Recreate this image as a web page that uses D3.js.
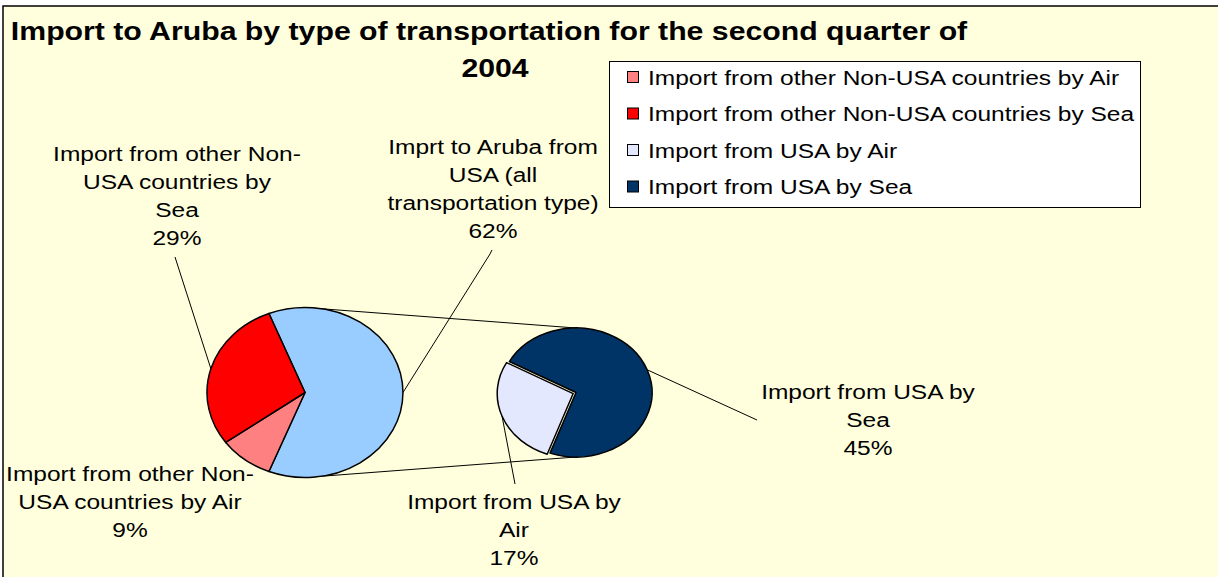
<!DOCTYPE html>
<html>
<head>
<meta charset="utf-8">
<script src="https://cdn.jsdelivr.net/npm/d3@7"></script>
<style>
  html, body { margin: 0; padding: 0; background: #ffffff; }
  svg { display: block; }
</style>
</head>
<body>
<svg id="chart" width="1218" height="577"></svg>
<script>
// ---------------- data ----------------
const titleLines = ["Import to Aruba by type of transportation for the second quarter of", "2004"];
const categories = [
  "Import from other Non-USA countries by Air",
  "Import from other Non-USA countries by Sea",
  "Import from USA by Air",
  "Import from USA by Sea"
];
const shares = [9, 29, 17, 45];              // percent of total imports
const otherLabel = "Imprt to Aruba from USA (all transportation type)";
const seriesColors = ["#FF8080", "#FF0000", "#E3E8FF", "#003366"];
const otherColor = "#99CCFF";

// label text lines (as wrapped in the original)
const labelLines = [
  ["Import from other Non-", "USA countries by Air"],
  ["Import from other Non-", "USA countries by", "Sea"],
  ["Import from USA by", "Air"],
  ["Import from USA by", "Sea"]
];
const otherLabelLines = ["Imprt to Aruba from", "USA (all", "transportation type)"];

// ---------------- layout ----------------
const svg = d3.select("#chart");
const FONT = "'Liberation Sans', Arial, Helvetica, sans-serif";
const SX = 1.167;        // horizontal stretch of the original rendering
const LH = 28.2;         // label line height
const deg = Math.PI / 180;

svg.append("rect").attr("x", 3).attr("y", 6).attr("width", 1240).attr("height", 600)
  .attr("fill", "#FFFFDD").attr("stroke", "#000").attr("stroke-width", 1.5);

function textBlock(lines, cx, baseline, size, weight, lh, sx) {
  lines.forEach((t, i) => {
    svg.append("g").attr("transform", `translate(${cx},${baseline + i * lh}) scale(${sx || SX},1)`)
      .append("text").attr("text-anchor", "middle")
      .attr("font-family", FONT).attr("font-size", size).attr("font-weight", weight)
      .attr("fill", "#000").text(t);
  });
}

// title
textBlock([titleLines[0]], 489, 40, 25, "bold", 0, 1.21);
textBlock([titleLines[1]], 495, 77, 25, "bold", 0, 1.21);

// ---------------- pies ----------------
const total = d3.sum(shares);
const usaTotal = shares[2] + shares[3];
const p1 = { cx: 305, cy: 392.5, rx: 98, ry: 85 };
const p2 = { cx: 576, cy: 392.5, rx: 76, ry: 64.5 };

const arc = d3.arc().innerRadius(0).outerRadius(1);

// primary pie: "other" (USA) slice centred at 3 o'clock
const primary = [
  { value: usaTotal, color: otherColor, idx: -1 },
  { value: shares[0], color: seriesColors[0], idx: 0 },
  { value: shares[1], color: seriesColors[1], idx: 1 }
];
const s1 = Math.PI / 2 - (usaTotal / total) * Math.PI;
const arcs1 = d3.pie().sort(null).value(d => d.value).startAngle(s1).endAngle(s1 + 2 * Math.PI)(primary);

// secondary pie: USA split
const secondary = [
  { value: shares[2], color: seriesColors[2], idx: 2 },
  { value: shares[3], color: seriesColors[3], idx: 3 }
];
const s2 = 200 * deg;
const arcs2 = d3.pie().sort(null).value(d => d.value).startAngle(s2).endAngle(s2 + 2 * Math.PI)(secondary);

function ellPoint(p, a, off) {
  off = off || [0, 0];
  return [p.cx + p.rx * Math.sin(a) + off[0], p.cy - p.ry * Math.cos(a) + off[1]];
}

// connector lines between the pies
const line = d3.line();
svg.append("path").attr("d", line([ellPoint(p1, 0), ellPoint(p2, 0)]))
  .attr("stroke", "#000").attr("stroke-width", 1).attr("fill", "none");
svg.append("path").attr("d", line([ellPoint(p1, Math.PI), ellPoint(p2, Math.PI)]))
  .attr("stroke", "#000").attr("stroke-width", 1).attr("fill", "none");

function drawPie(p, arcs, explodeIdx, explodeDist) {
  const g = svg.append("g").attr("transform", `translate(${p.cx},${p.cy})`);
  arcs.forEach(a => {
    let off = [0, 0];
    if (a.data.idx === explodeIdx) {
      const m = (a.startAngle + a.endAngle) / 2;
      off = [explodeDist * Math.sin(m), -explodeDist * Math.cos(m)];
    }
    a.off = off;
    g.append("g").attr("transform", `translate(${off[0]},${off[1]}) scale(${p.rx},${p.ry})`)
      .append("path").attr("d", arc(a))
      .attr("fill", a.data.color).attr("stroke", "#000").attr("stroke-width", 1.5)
      .attr("stroke-linejoin", "round")
      .attr("vector-effect", "non-scaling-stroke");
  });
}
drawPie(p1, arcs1, null, 0);
drawPie(p2, arcs2, 2, 3);

// ---------------- data labels ----------------
function leader(p, a, end) {
  const m = (a.startAngle + a.endAngle) / 2;
  const st = ellPoint(p, m, a.off);
  svg.append("path").attr("d", line([st].concat(end)))
    .attr("stroke", "#000").attr("stroke-width", 1).attr("fill", "none");
}
const pct = v => Math.round(v / total * 100) + "%";

// primary pie labels
leader(p1, arcs1[2], [[175, 257]]);
leader(p1, arcs1[0], [[490, 254], [492, 250]]);
textBlock(labelLines[1].concat([pct(shares[1])]), 177, 160.5, 21, "normal", LH);
textBlock(otherLabelLines.concat([pct(usaTotal)]), 493, 153.5, 21, "normal", LH);
textBlock(labelLines[0].concat([pct(shares[0])]), 130, 480.5, 21, "normal", LH);

// secondary pie labels
leader(p2, arcs2[1], [[757, 420]]);
leader(p2, arcs2[0], [[515, 484]]);
textBlock(labelLines[3].concat([pct(shares[3])]), 868, 398.5, 21, "normal", LH);
textBlock(labelLines[2].concat([pct(shares[2])]), 514, 508.5, 21, "normal", LH);

// ---------------- legend ----------------
const lg = svg.append("g");
lg.append("rect").attr("x", 609.5).attr("y", 61.5).attr("width", 531).attr("height", 146)
  .attr("fill", "#fff").attr("stroke", "#000").attr("stroke-width", 1);
const ly = d3.scalePoint().domain(categories).range([77, 186.5]);
categories.forEach((c, i) => {
  const y = ly(c);
  lg.append("rect").attr("x", 627.5).attr("y", y - 5.5).attr("width", 11).attr("height", 11)
    .attr("fill", seriesColors[i]).attr("stroke", "#000").attr("stroke-width", 1);
  lg.append("g").attr("transform", `translate(648,${y + 7.5}) scale(${SX},1)`)
    .append("text").attr("font-family", FONT).attr("font-size", 21).attr("fill", "#000").text(c);
});
</script>
</body>
</html>
